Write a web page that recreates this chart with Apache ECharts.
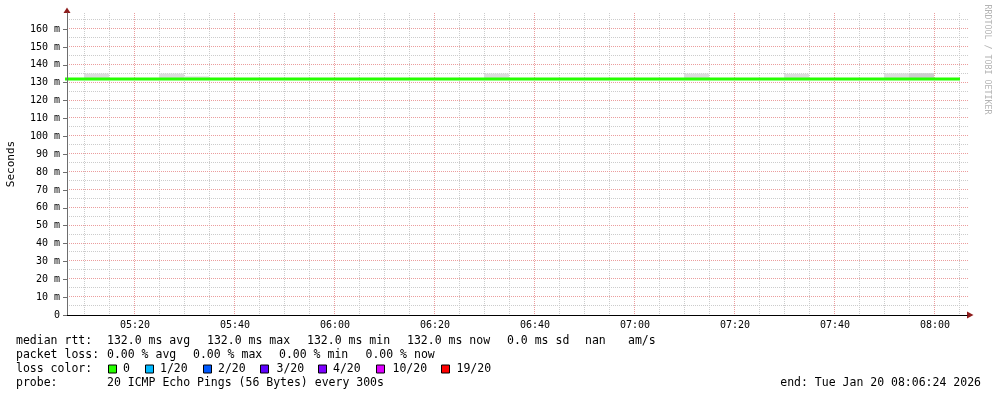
<!DOCTYPE html>
<html>
<head>
<meta charset="utf-8">
<script src="https://cdn.jsdelivr.net/npm/echarts@6/dist/echarts.min.js"></script>
<style>
  html, body { margin: 0; padding: 0; background: #fff; }
  #chart { width: 997px; height: 397px; }
</style>
</head>
<body>
<div id="chart"></div>
<script>
// time window (minutes since midnight) 05:06:24 -> 08:06:24
var startTime = '05:06:24';
var endTime = '08:06:24';
var stepMinutes = 5;

// median rtt, one value per 5 min step (ms)
var medianTimes = ['05:05', '05:10', '05:15', '05:20', '05:25', '05:30', '05:35', '05:40', '05:45', '05:50',
    '05:55', '06:00', '06:05', '06:10', '06:15', '06:20', '06:25', '06:30', '06:35', '06:40',
    '06:45', '06:50', '06:55', '07:00', '07:05', '07:10', '07:15', '07:20', '07:25', '07:30',
    '07:35', '07:40', '07:45', '07:50', '07:55', '08:00', '08:05'];
var medianRtt = [132.0, 132.0, 132.0, 132.0, 132.0, 132.0, 132.0, 132.0, 132.0, 132.0,
    132.0, 132.0, 132.0, 132.0, 132.0, 132.0, 132.0, 132.0, 132.0, 132.0,
    132.0, 132.0, 132.0, 132.0, 132.0, 132.0, 132.0, 132.0, 132.0, 132.0,
    132.0, 132.0, 132.0, 132.0, 132.0, 132.0, 132.0];

// smoke (ping spread) bins: start of bin, bottom and top (ms)
var smokeStart = ['05:10', '05:25', '05:30', '06:30', '07:10', '07:30', '07:50', '07:55'];
var smokeLow = [132.0, 132.0, 132.0, 132.0, 132.0, 132.0, 132.0, 132.0];
var smokeHigh = [135.1, 135.1, 133.6, 135.1, 135.1, 135.0, 135.2, 135.3];
var smokeShade = ['#dcdcdc', '#dcdcdc', '#e4e4e4', '#dcdcdc', '#dcdcdc', '#dcdcdc', '#dcdcdc', '#cdcdcd'];

// y axis
var yMin = 0;
var yMax = 169;
var yStep = 10;

// grid lines (major = labelled, minor = in between)
var xMajorTimes = ['05:20', '05:40', '06:00', '06:20', '06:40', '07:00', '07:20', '07:40', '08:00'];
var xMinorTimes = ['05:10', '05:15', '05:25', '05:30', '05:35', '05:45', '05:50', '05:55',
    '06:05', '06:10', '06:15', '06:25', '06:30', '06:35', '06:45', '06:50', '06:55',
    '07:05', '07:10', '07:15', '07:25', '07:30', '07:35', '07:45', '07:50', '07:55', '08:05'];
var yMajorValues = [10, 20, 30, 40, 50, 60, 70, 80, 90, 100, 110, 120, 130, 140, 150, 160];
var yMinorValues = [5, 15, 25, 35, 45, 55, 65, 75, 85, 95, 105, 115, 125, 135, 145, 155, 165];

// legend
var lossLabels = ['0', '1/20', '2/20', '3/20', '4/20', '10/20', '19/20'];
var lossColors = ['#26ff00', '#00b8ff', '#0059ff', '#5e00ff', '#7e00ff', '#dd00ff', '#ff0000'];

var mono = '"DejaVu Sans Mono", monospace';
var majorGrid = '#eb9d9d';
var minorGrid = '#cccccc';

function toMin(t) {
    var p = t.split(':');
    var m = (p[0] - 0) * 60 + (p[1] - 0);
    if (p.length > 2) m += (p[2] - 0) / 60;
    return m;
}
function pad(n) {
    return (n < 10 ? '0' : '') + n;
}

var chart = echarts.init(document.getElementById('chart'), null, { renderer: 'canvas' });

// legend texts
var graphics = [];
function txt(x, y, s, align) {
    graphics.push({
        type: 'text', x: x, y: y, silent: true,
        style: { text: s, fill: '#000', fontSize: 11.5, fontFamily: mono, verticalAlign: 'middle', align: align || 'left' }
    });
}
txt(16, 341.5, 'median rtt:');
txt(107, 341.5, '132.0 ms avg');
txt(207, 341.5, '132.0 ms max');
txt(307, 341.5, '132.0 ms min');
txt(407, 341.5, '132.0 ms now');
txt(507, 341.5, '0.0 ms sd');
txt(585, 341.5, 'nan');
txt(628, 341.5, 'am/s');

txt(16, 355.3, 'packet loss:');
txt(107, 355.3, '0.00 % avg');
txt(193, 355.3, '0.00 % max');
txt(279, 355.3, '0.00 % min');
txt(365.5, 355.3, '0.00 % now');

txt(16, 369, 'loss color:');
var boxX = [108.5, 145.5, 203.5, 260.5, 318.5, 376.5, 441.5];
var labX = [123, 160, 218, 276.5, 333, 392.5, 456.5];
for (var i = 0; i < lossLabels.length; i++) {
    graphics.push({
        type: 'rect', silent: true,
        shape: { x: boxX[i], y: 365, width: 8, height: 8 },
        style: { fill: lossColors[i], stroke: '#000', lineWidth: 1 }
    });
    txt(labX[i], 369, lossLabels[i]);
}

txt(16, 382.8, 'probe:');
txt(107, 382.8, '20 ICMP Echo Pings (56 Bytes) every 300s');
txt(981, 382.8, 'end: Tue Jan 20 08:06:24 2026', 'right');

// watermark
graphics.push({
    type: 'text', x: 987, y: 59.5, rotation: -Math.PI / 2, silent: true,
    style: { text: 'RRDTOOL / TOBI OETIKER', fill: '#b4b4b4', fontSize: 8.3, fontFamily: mono, align: 'center', verticalAlign: 'middle' }
});

// axis arrows
graphics.push({
    type: 'polygon', silent: true,
    shape: { points: [[63.5, 13], [70.5, 13], [67, 7.5]] },
    style: { fill: '#8e1c1c' }
});
graphics.push({
    type: 'polygon', silent: true,
    shape: { points: [[967, 311.5], [967, 318.5], [973.5, 315]] },
    style: { fill: '#8e1c1c' }
});

// dotted grid lines, snapped to pixels
function gridLines(vertical) {
    return function (params, api) {
        var cs = params.coordSys;
        var p = api.coord([api.value(0), api.value(1)]);
        var style = { stroke: api.value(2) ? majorGrid : minorGrid, lineWidth: 1, lineDash: [1, 1] };
        if (vertical) {
            var x = Math.round(p[0]) - 0.5;
            return { type: 'line', shape: { x1: x, y1: cs.y, x2: x, y2: cs.y + cs.height }, style: style };
        }
        var y = Math.round(p[1]) - 0.5;
        return { type: 'line', shape: { x1: cs.x, y1: y, x2: cs.x + cs.width + 1, y2: y }, style: style };
    };
}
var vGrid = xMinorTimes.map(function (t) { return [toMin(t), yMin, 0]; })
    .concat(xMajorTimes.map(function (t) { return [toMin(t), yMin, 1]; }));
var hGrid = yMinorValues.map(function (v) { return [toMin(startTime), v, 0]; })
    .concat(yMajorValues.map(function (v) { return [toMin(startTime), v, 1]; }));

chart.setOption({
    animation: false,
    backgroundColor: '#fff',
    grid: { left: 67, right: 30, top: 13, bottom: 82, containLabel: false, outerBoundsMode: 'none' },
    xAxis: {
        type: 'value',
        z: 10,
        min: toMin(startTime),
        max: toMin(endTime),
        minInterval: 20,
        maxInterval: 20,
        axisLine: { lineStyle: { color: '#000', width: 1 } },
        axisTick: { show: false },
        axisLabel: {
            showMinLabel: false,
            showMaxLabel: false,
            margin: 5,
            color: '#000',
            fontSize: 10,
            fontFamily: mono,
            formatter: function (v) {
                if (Math.abs(v % 20) > 0.001) return '';
                return pad(Math.floor(v / 60)) + ':' + pad(Math.round(v % 60));
            }
        },
        splitLine: { show: false }
    },
    yAxis: {
        type: 'value',
        z: 10,
        min: yMin,
        max: yMax,
        interval: yStep,
        name: 'Seconds',
        nameLocation: 'middle',
        nameRotate: 90,
        nameGap: 50,
        nameTextStyle: { color: '#000', fontSize: 11, fontFamily: mono },
        axisLine: { show: true, lineStyle: { color: '#6e6e6e', width: 1 } },
        axisTick: { show: true, length: 4, lineStyle: { color: '#6e6e6e' } },
        axisLabel: {
            showMaxLabel: false,
            margin: 7,
            color: '#000',
            fontSize: 10,
            fontFamily: mono,
            formatter: function (v) {
                if (v % yStep !== 0) return '';
                return v === 0 ? '0' : v + ' m';
            }
        },
        splitLine: { show: false }
    },
    series: [{
        name: 'vgrid',
        type: 'custom',
        z: 1,
        silent: true,
        clip: false,
        data: vGrid,
        renderItem: gridLines(true)
    }, {
        name: 'hgrid',
        type: 'custom',
        z: 1,
        silent: true,
        clip: false,
        data: hGrid,
        renderItem: gridLines(false)
    }, {
        name: 'smoke',
        type: 'custom',
        z: 5,
        silent: true,
        clip: true,
        data: smokeStart.map(function (t, i) {
            return [toMin(t), smokeLow[i], smokeHigh[i], i];
        }),
        renderItem: function (params, api) {
            var p0 = api.coord([api.value(0), api.value(2)]);
            var p1 = api.coord([api.value(0) + stepMinutes, api.value(1)]);
            var x0 = Math.round(p0[0]) - 1;
            var x1 = Math.round(p1[0]) - 1;
            return {
                type: 'rect',
                shape: { x: x0, y: p0[1], width: x1 - x0, height: p1[1] - p0[1] },
                style: { fill: smokeShade[api.value(3)] }
            };
        }
    }, {
        name: 'median rtt',
        type: 'line',
        z: 6,
        silent: true,
        clip: true,
        showSymbol: false,
        data: medianTimes.map(function (t, i) {
            return [toMin(t), medianRtt[i]];
        }),
        lineStyle: { color: '#26ff00', width: 3 }
    }],
    graphic: graphics
});
</script>
</body>
</html>
